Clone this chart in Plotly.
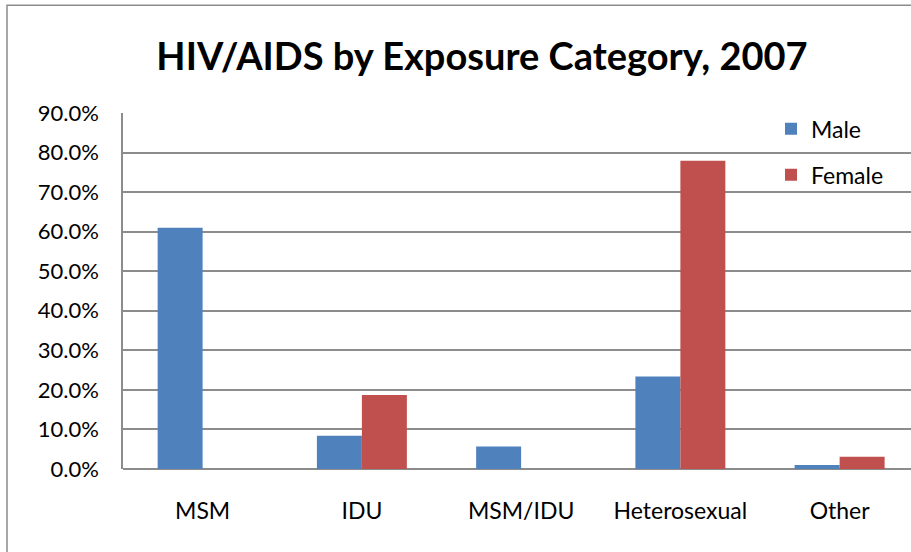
import plotly.graph_objects as go

categories = ["MSM", "IDU", "MSM/IDU", "Heterosexual", "Other"]
male = [0.610, 0.084, 0.057, 0.234, 0.010]
female = [None, 0.187, None, 0.779, 0.031]
y_ticks = [0.0, 0.1, 0.2, 0.3, 0.4, 0.5, 0.6, 0.7, 0.8, 0.9]

FONT = "Lato"
GRID = "#8c8c8c"

fig = go.Figure()
fig.add_trace(go.Bar(name="Male", x=categories, y=male,
                     marker=dict(color="#4F81BD", line=dict(width=0)),
                     legend="legend", showlegend=True))
fig.add_trace(go.Bar(name="Female", x=categories, y=female,
                     marker=dict(color="#C0504D", line=dict(width=0)),
                     legend="legend2", showlegend=True))

W, H = 911, 552
L, T, B = 123, 113, 83
pw = W - L
ph = H - T - B

fig.update_layout(
    width=W, height=H,
    margin=dict(l=L, r=0, t=T, b=B),
    paper_bgcolor="white", plot_bgcolor="white",
    barmode="group", bargap=0.435, bargroupgap=0,
    showlegend=True,
    font=dict(family=FONT, size=23, color="black"),
    title=dict(text="<b>HIV/AIDS by Exposure Category, 2007</b>",
               font=dict(family=FONT, size=38, color="black"),
               x=482 / W, xref="container", xanchor="center",
               y=1 - 57 / H, yref="container", yanchor="middle"),
    xaxis=dict(range=[-0.5, pw / 159.25 - 0.5], showgrid=False,
               showline=False, ticks="", ticklabelstandoff=26,
               tickfont=dict(family=FONT, size=23, color="black")),
    yaxis=dict(range=[0, 0.9], tickvals=y_ticks, tickformat=".1%",
               showgrid=True, gridcolor=GRID, gridwidth=1.5,
               zeroline=True, zerolinecolor=GRID, zerolinewidth=1.5,
               showline=True, linecolor=GRID, linewidth=1.5,
               ticks="", ticklabelstandoff=18,
               tickfont=dict(family=FONT, size=22, color="black")),
    legend=dict(x=(771 - L) / pw, y=(468.7 - 107) / ph, xanchor="left", yanchor="top",
                bgcolor="rgba(0,0,0,0)", font=dict(family=FONT, size=23)),
    legend2=dict(x=(771 - L) / pw, y=(468.7 - 153) / ph, xanchor="left", yanchor="top",
                 bgcolor="rgba(0,0,0,0)", font=dict(family=FONT, size=23)),
    shapes=[dict(type="rect", xref="paper", yref="paper",
                 x0=(7 - L) / pw, x1=1.2, y0=-0.5, y1=(468.7 - 5) / ph,
                 line=dict(color="#8c8c8c", width=1.5), fillcolor="rgba(0,0,0,0)",
                 layer="below")],
)

fig.write_html("out.html", config={"displayModeBar": False},
               post_script="document.body.style.margin='0';document.body.style.overflow='hidden';")
